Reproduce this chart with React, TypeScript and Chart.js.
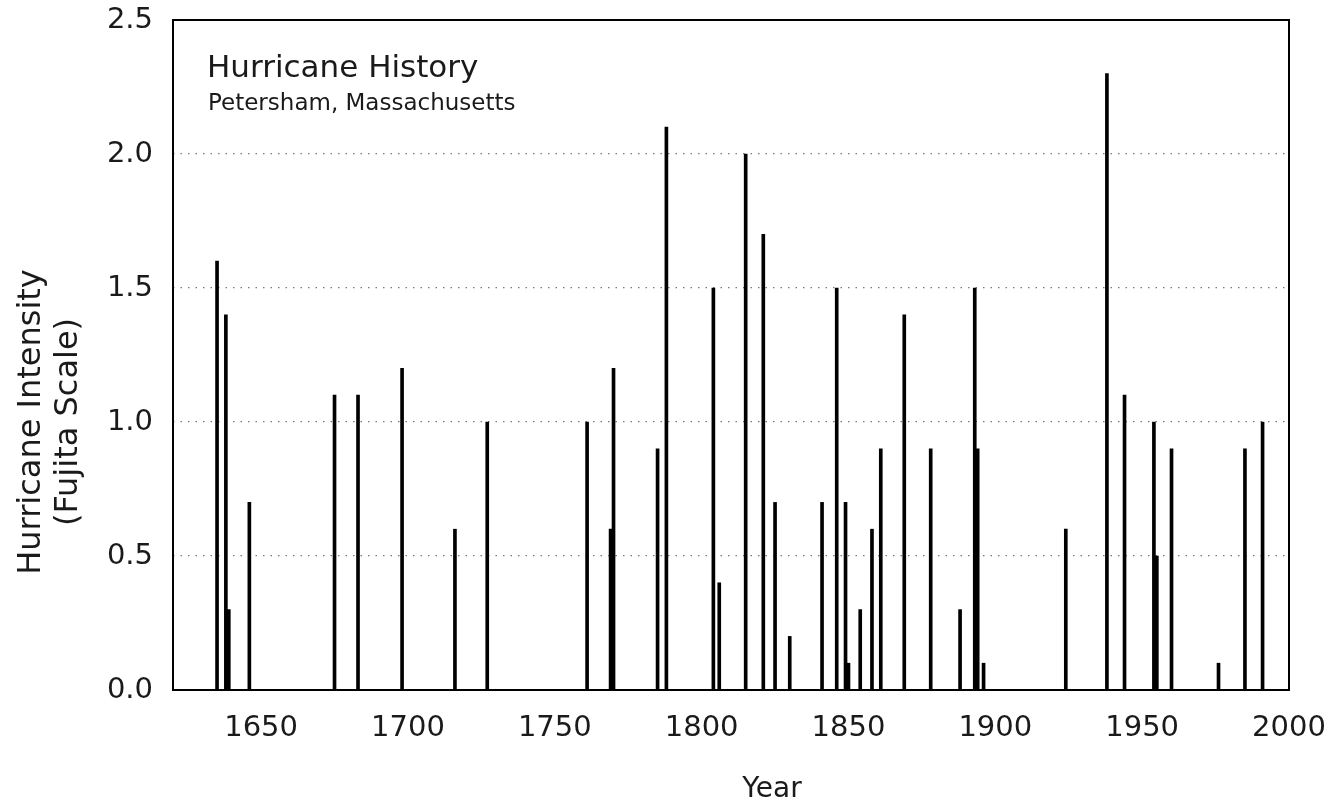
import React, { useEffect, useRef } from "react";
import { Chart, registerables } from "chart.js";

Chart.register(...registerables);

const years = [1635, 1638, 1639, 1646, 1675, 1683, 1698, 1716, 1727, 1761, 1769, 1770, 1785, 1788, 1804, 1806, 1815, 1821, 1825, 1830, 1841, 1846, 1849, 1850, 1854, 1858, 1861, 1869, 1878, 1888, 1893, 1894, 1896, 1924, 1938, 1944, 1954, 1955, 1960, 1976, 1985, 1991];
const intensity = [1.6, 1.4, 0.3, 0.7, 1.1, 1.1, 1.2, 0.6, 1.0, 1.0, 0.6, 1.2, 0.9, 2.1, 1.5, 0.4, 2.0, 1.7, 0.7, 0.2, 0.7, 1.5, 0.7, 0.1, 0.3, 0.6, 0.9, 1.4, 0.9, 0.3, 1.5, 0.9, 0.1, 0.6, 2.3, 1.1, 1.0, 0.5, 0.9, 0.1, 0.9, 1.0];
const xTickValues = [1650, 1700, 1750, 1800, 1850, 1900, 1950, 2000];
const yTickValues = [0, 0.5, 1.0, 1.5, 2.0, 2.5];

const titleText = "Hurricane History";
const subtitleText = "Petersham, Massachusetts";
const yTitleLines = ["Hurricane Intensity", "(Fujita Scale)"];
const xTitleText = "Year";

const FONT = '"DejaVu Sans", Verdana, sans-serif';

const overlay = {
  id: "overlay",
  afterDraw(chart: any) {
    const { ctx, chartArea } = chart;
    const { left, top, right, bottom } = chartArea;
    ctx.save();
    ctx.strokeStyle = "#000";
    ctx.lineWidth = 2;
    ctx.strokeRect(left, top, right - left, bottom - top);

    ctx.fillStyle = "#1a1a1a";
    ctx.textAlign = "left";
    ctx.textBaseline = "alphabetic";
    ctx.font = `31px ${FONT}`;
    ctx.fillText(titleText, 207, 77);
    ctx.font = `23px ${FONT}`;
    ctx.fillText(subtitleText, 208, 110);

    ctx.textAlign = "center";
    ctx.font = `28px ${FONT}`;
    ctx.fillText(xTitleText, 772, 797);

    ctx.font = `32px ${FONT}`;
    const cy = 422;
    const xs = [40, 77];
    yTitleLines.forEach((line, i) => {
      ctx.save();
      ctx.translate(xs[i], cy);
      ctx.rotate(-Math.PI / 2);
      ctx.fillText(line, 0, 0);
      ctx.restore();
    });
    ctx.restore();
  },
};

export default function App() {
  const canvasRef = useRef<HTMLCanvasElement | null>(null);

  useEffect(() => {
    if (!canvasRef.current) return;
    const data = years.map((y, i) => ({ x: y, y: intensity[i] }));
    const chart = new Chart(canvasRef.current, {
      type: "bar",
      data: {
        datasets: [
          {
            data: data as any,
            backgroundColor: "#000",
            borderWidth: 0,
            barThickness: 3,
            grouped: false,
          } as any,
        ],
      },
      options: {
        animation: false,
        responsive: true,
        maintainAspectRatio: false,
        layout: { padding: { left: 0, top: 20, right: 46, bottom: 0 } },
        plugins: {
          legend: { display: false },
          tooltip: { enabled: false },
          title: { display: false },
        },
        scales: {
          x: {
            type: "linear",
            min: 1620,
            max: 2000,
            offset: false,
            afterBuildTicks: (scale: any) => {
              scale.ticks = xTickValues.map((v) => ({ value: v }));
            },
            afterFit: (scale: any) => {
              scale.height = 112;
              scale.paddingLeft = 0;
              scale.paddingRight = 0;
            },
            grid: { display: false, drawTicks: false, offset: false },
            border: { display: false },
            ticks: {
              autoSkip: false,
              maxRotation: 0,
              minRotation: 0,
              padding: 21,
              color: "#1a1a1a",
              font: { family: FONT, size: 29 },
              callback: (v: any) => String(v),
            },
          },
          y: {
            type: "linear",
            min: 0,
            max: 2.5,
            afterBuildTicks: (scale: any) => {
              scale.ticks = yTickValues.map((v) => ({ value: v }));
            },
            afterFit: (scale: any) => {
              scale.width = 173;
              scale.paddingTop = 0;
              scale.paddingBottom = 0;
            },
            grid: {
              drawTicks: false,
              lineWidth: 1.3,
              color: (c: any) =>
                c.tick && (c.tick.value === 0 || c.tick.value === 2.5)
                  ? "rgba(0,0,0,0)"
                  : "#7a7a7a",
            },
            border: { display: false, dash: [1.5, 6] },
            ticks: {
              padding: 20,
              color: "#1a1a1a",
              font: { family: FONT, size: 29 },
              callback: (v: any) => Number(v).toFixed(1),
            },
          },
        },
      },
      plugins: [overlay],
    });
    return () => chart.destroy();
  }, []);

  return (
    <div style={{ position: "fixed", left: 0, top: 0, width: 1335, height: 802, background: "#fff" }}>
      <canvas ref={canvasRef} />
    </div>
  );
}
